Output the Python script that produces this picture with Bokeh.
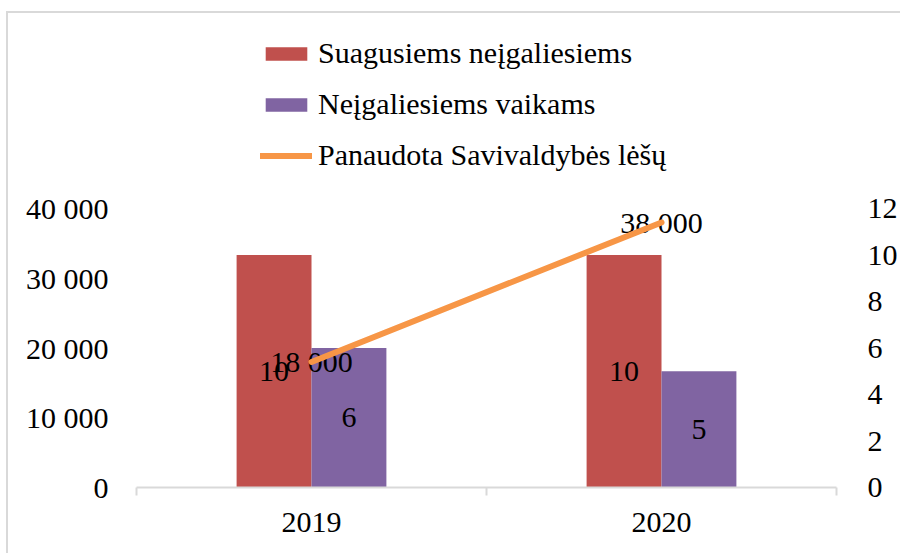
from bokeh.plotting import figure
from bokeh.models import (ColumnDataSource, Range1d, LinearAxis, FixedTicker,
                          Legend, LegendItem)
from bokeh.core.properties import value
from bokeh.embed import file_html
from bokeh.resources import INLINE

# ---- data ----
years = ["2019", "2020"]
adults = [10, 10]              # Suagusiems neįgaliesiems (right axis)
children = [6, 5]              # Neįgaliesiems vaikams (right axis)
funds = [18000, 38000]         # Panaudota Savivaldybės lėšų (left axis)
left_ticks = [0, 10000, 20000, 30000, 40000]
left_labels = ["0", "10 000", "20 000", "30 000", "40 000"]
right_ticks = [0, 2, 4, 6, 8, 10, 12]
fund_labels = ["18 000", "38 000"]
series_names = ["Suagusiems neįgaliesiems", "Neįgaliesiems vaikams",
                "Panaudota Savivaldybės lėšų"]

FONT = "Liberation Serif"
FS = "30px"
RED = "#C0504D"
PURPLE = "#8064A2"
ORANGE = "#F79646"
GRID = "#D9D9D9"

# layout (pixels)
W, H = 892, 540
FRAME_H = 474          # frame spans from the canvas top to the x axis
AXIS_H = 279           # pixel height of the 0..max tick span

centers = [i + 0.5 for i in range(len(years))]
bw = 0.214

src = ColumnDataSource(dict(
    xc=centers,
    xa=[c - bw / 2 for c in centers],
    xb=[c + bw / 2 for c in centers],
    adults=adults,
    children=children,
    adults_mid=[v / 2 for v in adults],
    children_mid=[v / 2 for v in children],
    adults_lbl=[str(v) for v in adults],
    children_lbl=[str(v) for v in children],
    funds=funds,
    funds_lbl=fund_labels,
))

p = figure(width=W, height=H, output_backend="svg", toolbar_location=None,
           x_range=Range1d(0, len(years)),
           y_range=Range1d(0, left_ticks[-1] * FRAME_H / AXIS_H),
           min_border_left=128, min_border_right=63, min_border_top=0,
           min_border_bottom=H - FRAME_H, y_axis_location=None, x_axis_location=None,
           background_fill_color="white", border_fill_color="white")
p.styles = {"margin-left": "8px", "margin-top": "13px",
            "outline": "2px solid #D9D9D9"}
p.outline_line_color = None
p.xgrid.visible = False
p.ygrid.visible = False
p.extra_y_ranges = {"right": Range1d(0, right_ticks[-1] * FRAME_H / AXIS_H)}

# axes
yl = LinearAxis(ticker=FixedTicker(ticks=left_ticks),
                major_label_overrides={t: l for t, l in zip(left_ticks, left_labels)})
yr = LinearAxis(y_range_name="right", ticker=FixedTicker(ticks=right_ticks))
for ax, st in ((yl, 22), (yr, 25)):
    ax.axis_line_color = None
    ax.major_tick_line_color = None
    ax.minor_tick_line_color = None
    ax.major_label_standoff = st
    ax.major_label_text_font = FONT
    ax.major_label_text_font_size = FS
    ax.major_label_text_color = "black"
p.add_layout(yl, "left")
p.add_layout(yr, "right")

xa = LinearAxis(ticker=FixedTicker(ticks=centers, minor_ticks=list(range(len(years) + 1))),
                major_label_overrides={c: y for c, y in zip(centers, years)})
xa.axis_line_color = GRID
xa.axis_line_width = 2
xa.major_tick_line_color = None
xa.major_tick_out = 0
xa.minor_tick_line_color = GRID
xa.minor_tick_line_width = 2
xa.minor_tick_out = 8
xa.minor_tick_in = 0
xa.major_label_standoff = 17
xa.major_label_text_font = FONT
xa.major_label_text_font_size = FS
xa.major_label_text_color = "black"
p.add_layout(xa, "below")

# bars
r1 = p.vbar(x="xa", top="adults", width=bw, source=src, y_range_name="right",
            fill_color=RED, line_color=None)
r2 = p.vbar(x="xb", top="children", width=bw, source=src, y_range_name="right",
            fill_color=PURPLE, line_color=None)
p.text(x="xa", y="adults_mid", text="adults_lbl", source=src, y_range_name="right",
       text_font=value(FONT), text_font_size=FS, text_align="center",
       text_baseline="middle", text_color="black")
p.text(x="xb", y="children_mid", text="children_lbl", source=src, y_range_name="right",
       text_font=value(FONT), text_font_size=FS, text_align="center",
       text_baseline="middle", text_color="black")
p.text(x="xc", y="funds", text="funds_lbl", source=src,
       text_font=value(FONT), text_font_size=FS, text_align="center",
       text_baseline="middle", text_color="black")
r3 = p.line(x="xc", y="funds", source=src, line_color=ORANGE, line_width=6,
            line_cap="round")

legend = Legend(items=[LegendItem(label=series_names[0], renderers=[r1]),
                       LegendItem(label=series_names[1], renderers=[r2]),
                       LegendItem(label=series_names[2], renderers=[r3])],
                location=(124, 315), orientation="vertical",
                glyph_width=52, glyph_height=17, label_standoff=6,
                spacing=17, padding=0, margin=0,
                label_text_font=FONT, label_text_font_size=FS,
                label_text_color="black",
                border_line_color=None, background_fill_alpha=0)
p.add_layout(legend, "center")

open("out.html", "w").write(file_html(p, INLINE))
